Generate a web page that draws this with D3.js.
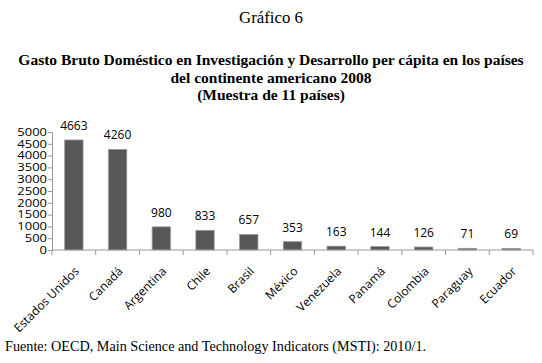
<!DOCTYPE html>
<html>
<head>
<meta charset="utf-8">
<script src="https://cdn.jsdelivr.net/npm/d3@7"></script>
<style>
  body { margin: 0; background: #fff; }
  svg { display: block; }
</style>
</head>
<body>
<div id="chart"></div>
<script>
const countries = ['Estados Unidos', 'Canadá', 'Argentina', 'Chile', 'Brasil', 'México',
                   'Venezuela', 'Panamá', 'Colombia', 'Paraguay', 'Ecuador'];
const values = [4663, 4260, 980, 833, 657, 353, 163, 144, 126, 71, 69];
const yTicks = [0, 500, 1000, 1500, 2000, 2500, 3000, 3500, 4000, 4500, 5000];

const width = 542;
const height = 363;
const margin = {top: 132, right: 9, bottom: 113, left: 52};

const svg = d3.select('#chart').append('svg')
    .attr('width', width)
    .attr('height', height);

// titles
const serif = '"Liberation Serif", "DejaVu Serif", serif';
svg.append('text')
    .attr('x', 271).attr('y', 23)
    .attr('text-anchor', 'middle')
    .attr('font-family', serif)
    .attr('font-size', '16.8px')
    .text('Gráfico 6');

const titleLines = ['Gasto Bruto Doméstico en Investigación y Desarrollo per cápita en los países',
                    'del continente americano 2008',
                    '(Muestra de 11 países)'];
svg.append('g')
    .selectAll('text')
    .data(titleLines)
    .join('text')
        .attr('x', 271)
        .attr('y', (d, i) => 65 + i * 17.5)
        .attr('text-anchor', 'middle')
        .attr('font-family', serif)
        .attr('font-weight', 'bold')
        .attr('font-size', '15.5px')
        .text(d => d);

svg.append('text')
    .attr('x', 5).attr('y', 351)
    .attr('font-family', serif)
    .attr('font-size', '14.2px')
    .text('Fuente: OECD, Main Science and Technology Indicators (MSTI): 2010/1.');

// SCALES
const x = d3.scaleBand()
    .domain(countries)
    .range([margin.left, width - margin.right])
    .paddingInner(0.58)
    .paddingOuter(0.29);

const y = d3.scaleLinear()
    .domain([0, 5000])
    .range([height - margin.bottom, margin.top]);

const sans = '"Open Sans", "Noto Sans", sans-serif';

// y axis - labels are drawn a bit wide, like the original
const stretch = 1.3;
svg.append('g')
    .attr('transform', `translate(${margin.left},0)`)
    .call(d3.axisLeft(y).tickValues(yTicks).tickFormat(d3.format('d')).tickSize(4).tickPadding(1))
    .call(g => g.select('.domain').attr('stroke', '#999'))
    .call(g => g.selectAll('.tick line').attr('stroke', '#999'))
    .call(g => g.selectAll('.tick text')
        .attr('fill', '#000')
        .attr('font-family', sans)
        .attr('font-size', '10px')
        .attr('x', -5 / stretch)
        .attr('transform', `scale(${stretch},1)`));

// bars
svg.append('g')
    .selectAll('rect')
    .data(values)
    .join('rect')
        .attr('x', (d, i) => x(countries[i]))
        .attr('y', d => y(d))
        .attr('width', x.bandwidth())
        .attr('height', d => y(0) - y(d))
        .attr('fill', '#575757')
        .attr('stroke', '#9a9a9a')
        .attr('stroke-width', 0.8);

// value labels
svg.append('g')
    .selectAll('text')
    .data(values)
    .join('text')
        .attr('x', (d, i) => x(countries[i]) + x.bandwidth() / 2)
        .attr('y', d => y(d) - 10)
        .attr('text-anchor', 'middle')
        .attr('font-family', sans)
        .attr('font-size', '12px')
        .text(d => d);

// x axis: ticks at band boundaries
const step = x.step();
const xa = svg.append('g')
    .attr('transform', `translate(0,${y(0)})`);
xa.append('line')
    .attr('x1', margin.left).attr('x2', width - margin.right)
    .attr('stroke', '#999');
xa.selectAll('.bnd')
    .data(d3.range(countries.length + 1))
    .join('line')
        .attr('class', 'bnd')
        .attr('x1', i => margin.left + i * step)
        .attr('x2', i => margin.left + i * step)
        .attr('y1', 0).attr('y2', 5)
        .attr('stroke', '#999');
xa.selectAll('.lbl')
    .data(countries)
    .join('text')
        .attr('class', 'lbl')
        .attr('transform', d => `translate(${x(d) + x.bandwidth() / 2 + 6},22) rotate(-45)`)
        .attr('text-anchor', 'end')
        .attr('font-family', sans)
        .attr('font-size', '12px')
        .text(d => d);
</script>
</body>
</html>
